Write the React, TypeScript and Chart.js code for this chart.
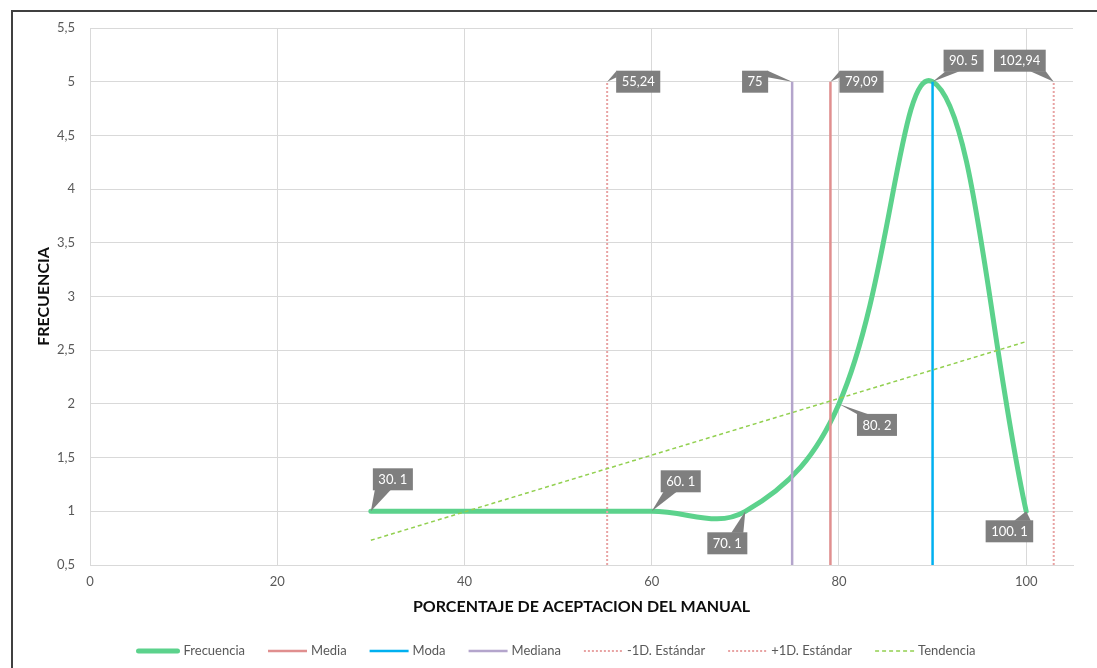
import React, { useEffect, useRef } from 'react';
import { Chart, registerables } from 'chart.js';

Chart.register(...registerables);

// ---------- data ----------
const freqX = [30, 60, 70, 80, 90, 100];
const freqY = [1, 1, 1, 2, 5, 1];
const trendX = [30, 100];
const trendY = [0.73, 2.58];
const statNames = ['Media', 'Moda', 'Mediana', '-1D. Estándar', '+1D. Estándar'];
const statValues = [79.09, 90, 75, 55.24, 102.94];
const statLineFrom = 0.5;
const statLineTo = 5;
const xTicks = [0, 20, 40, 60, 80, 100];
const yTicks = [0.5, 1, 1.5, 2, 2.5, 3, 3.5, 4, 4.5, 5, 5.5];
const xTitle = 'PORCENTAJE DE ACEPTACION DEL MANUAL';
const yTitle = 'FRECUENCIA';

// ---------- styles ----------
const FONT = 'Lato, "Noto Sans", sans-serif';
const statColors = ['#E08F8F', '#00B0F0', '#B4A5CC', '#E8A3A3', '#E8A3A3'];
const statWidths = [2.5, 2.5, 2.5, 2, 2];
const statDash: number[][] = [[], [], [], [2, 2], [2, 2]];
const statOrder = [5, 4, 3, 2, 1];
const freqColor = '#5CD28C';
const trendColor = '#92D050';

type LStyle = { dx: number; dy: number; align: 'left' | 'right'; edge: 'top' | 'bottom' | 'left' | 'right'; base: [number, number] } | null;
const freqLabelStyle: LStyle[] = [
  { dx: 2, dy: -43, align: 'left', edge: 'bottom', base: [0.05, 0.45] },
  { dx: 9, dy: -41, align: 'left', edge: 'bottom', base: [0.07, 0.4] },
  { dx: 2, dy: 21, align: 'right', edge: 'top', base: [0.6, 0.9] },
  { dx: 18, dy: 10, align: 'left', edge: 'top', base: [0.02, 0.3] },
  { dx: 11, dy: -32, align: 'left', edge: 'bottom', base: [0.05, 0.4] },
  { dx: 7, dy: 9, align: 'right', edge: 'top', base: [0.6, 0.95] },
];
const statLabelStyle: LStyle[] = [
  { dx: 9, dy: -11, align: 'left', edge: 'left', base: [0, 0.3] },
  null,
  { dx: -24, dy: -11, align: 'right', edge: 'right', base: [0, 0.3] },
  { dx: 9, dy: -11, align: 'left', edge: 'left', base: [0, 0.3] },
  { dx: -8, dy: -32, align: 'right', edge: 'bottom', base: [0.7, 1.0] },
];

const fmtComma = (v: number) => String(v).replace('.', ',');

const framePlugin = {
  id: 'frame',
  beforeDraw(chart: any) {
    const ctx = chart.ctx;
    ctx.save();
    ctx.fillStyle = '#ffffff';
    ctx.fillRect(0, 0, chart.width, chart.height);
    ctx.strokeStyle = '#404040';
    ctx.lineWidth = 2;
    ctx.beginPath();
    ctx.moveTo(12, chart.height);
    ctx.lineTo(12, 11);
    ctx.lineTo(chart.width, 11);
    ctx.stroke();
    ctx.restore();
  },
};

function drawCallout(ctx: any, text: string, ax: number, ay: number, st: any) {
  ctx.font = `13px ${FONT}`;
  const tw = ctx.measureText(text).width;
  const w = tw + 11;
  const h = 22;
  const bx = st.align === 'left' ? ax + st.dx : ax + st.dx - w;
  const by = ay + st.dy;
  ctx.fillStyle = '#7F7F7F';
  ctx.fillRect(bx, by, w, h);
  let p1: number[], p2: number[];
  if (st.edge === 'bottom' || st.edge === 'top') {
    const ey = st.edge === 'bottom' ? by + h - 0.5 : by + 0.5;
    p1 = [bx + w * st.base[0], ey];
    p2 = [bx + w * st.base[1], ey];
  } else {
    const ex = st.edge === 'left' ? bx + 0.5 : bx + w - 0.5;
    p1 = [ex, by + h * st.base[0]];
    p2 = [ex, by + h * st.base[1]];
  }
  ctx.beginPath();
  ctx.moveTo(p1[0], p1[1]);
  ctx.lineTo(ax, ay);
  ctx.lineTo(p2[0], p2[1]);
  ctx.closePath();
  ctx.fill();
  ctx.fillStyle = '#ffffff';
  ctx.textAlign = 'center';
  ctx.textBaseline = 'middle';
  ctx.fillText(text, bx + w / 2, by + h / 2 + 0.5);
}

const labelPlugin = {
  id: 'callouts',
  afterDatasetsDraw(chart: any) {
    const ctx = chart.ctx;
    const xs = chart.scales.x;
    const ys = chart.scales.y;
    ctx.save();
    freqX.forEach((x, i) => {
      const st = freqLabelStyle[i];
      if (!st) return;
      drawCallout(ctx, `${x}. ${freqY[i]}`, xs.getPixelForValue(x), ys.getPixelForValue(freqY[i]), st);
    });
    statValues.forEach((v, i) => {
      const st = statLabelStyle[i];
      if (!st) return;
      drawCallout(ctx, fmtComma(v), xs.getPixelForValue(v), ys.getPixelForValue(statLineTo), st);
    });
    ctx.restore();
  },
};

const legendPlugin = {
  id: 'customLegend',
  afterDraw(chart: any) {
    const ctx = chart.ctx;
    const items = chart.data.datasets.map((d: any) => ({
      label: d.label,
      color: d.borderColor,
      width: d.label === 'Frecuencia' ? 5 : d.borderWidth,
      dash: d.borderDash || [],
      len: d.label === 'Frecuencia' ? 43 : 39,
    }));
    ctx.save();
    ctx.font = `13px ${FONT}`;
    const gapText = 4;
    const gapItem = 23;
    const widths = items.map((it: any) => it.len + gapText + ctx.measureText(it.label).width);
    const total = widths.reduce((a: number, b: number) => a + b, 0) + gapItem * (items.length - 1);
    let x = 556 - total / 2;
    const y = 651;
    items.forEach((it: any, i: number) => {
      ctx.strokeStyle = it.color;
      ctx.lineWidth = it.width;
      ctx.lineCap = it.label === 'Frecuencia' ? 'round' : 'butt';
      ctx.setLineDash(it.dash);
      ctx.beginPath();
      ctx.moveTo(x + (it.label === 'Frecuencia' ? 2 : 0), y);
      ctx.lineTo(x + it.len - (it.label === 'Frecuencia' ? 2 : 0), y);
      ctx.stroke();
      ctx.setLineDash([]);
      ctx.fillStyle = '#595959';
      ctx.textAlign = 'left';
      ctx.textBaseline = 'middle';
      ctx.fillText(it.label, x + it.len + gapText, y);
      x += widths[i] + gapItem;
    });
    ctx.restore();
  },
};

export default function App() {
  const ref = useRef<HTMLCanvasElement>(null);
  useEffect(() => {
    if (!ref.current) return;
    const datasets: any[] = [
      {
        label: 'Frecuencia',
        data: freqX.map((x, i) => ({ x, y: freqY[i] })),
        borderColor: freqColor,
        backgroundColor: freqColor,
        borderWidth: 5,
        tension: 0.4,
        pointRadius: 0,
        borderCapStyle: 'round',
        order: 10,
      },
      ...statNames.map((name, i) => ({
        label: name,
        data: [
          { x: statValues[i], y: statLineFrom },
          { x: statValues[i], y: statLineTo },
        ],
        borderColor: statColors[i],
        backgroundColor: statColors[i],
        borderWidth: statWidths[i],
        borderDash: statDash[i],
        pointRadius: 0,
        order: statOrder[i],
      })),
      {
        label: 'Tendencia',
        data: trendX.map((x, i) => ({ x, y: trendY[i] })),
        borderColor: trendColor,
        backgroundColor: trendColor,
        borderWidth: 1.5,
        borderDash: [4, 3],
        pointRadius: 0,
        order: 0,
      },
    ];
    const chart = new Chart(ref.current, {
      type: 'line',
      data: { datasets },
      options: {
        responsive: false,
        animation: false,
        layout: { padding: { left: 0, right: 24, top: 28, bottom: 0 } },
        plugins: { legend: { display: false }, tooltip: { enabled: false } },
        scales: {
          x: {
            type: 'linear',
            min: 0,
            max: 105,
            afterBuildTicks: (s: any) => {
              s.ticks = xTicks.map((v) => ({ value: v }));
            },
            afterFit: (s: any) => {
              s.height = 103;
            },
            grid: { color: '#D9D9D9', drawTicks: false, lineWidth: 1 },
            border: { color: '#D9D9D9' },
            ticks: {
              padding: 9,
              color: '#595959',
              font: { family: FONT, size: 13 },
              callback: (v: any) => String(v),
            },
            title: {
              display: true,
              text: xTitle,
              color: '#0D0D0D',
              font: { family: FONT, size: 16, weight: 'bold' },
              padding: { top: 0, bottom: 52 },
            },
          },
          y: {
            type: 'linear',
            min: 0.5,
            max: 5.5,
            afterBuildTicks: (s: any) => {
              s.ticks = yTicks.map((v) => ({ value: v }));
            },
            afterFit: (s: any) => {
              s.width = 90;
            },
            grid: { color: '#D9D9D9', drawTicks: false, lineWidth: 1 },
            border: { color: '#D9D9D9' },
            ticks: {
              padding: 15,
              color: '#595959',
              font: { family: FONT, size: 13 },
              callback: (v: any) => fmtComma(v),
            },
            title: {
              display: true,
              text: yTitle,
              color: '#0D0D0D',
              font: { family: FONT, size: 16, weight: 'bold' },
              padding: { top: 34, bottom: 0 },
            },
          },
        },
      },
      plugins: [framePlugin, labelPlugin, legendPlugin],
    } as any);
    return () => chart.destroy();
  }, []);
  return (
    <div style={{ position: 'fixed', left: 0, top: 0, width: 1097, height: 668 }}>
      <canvas ref={ref} width={1097} height={668} />
    </div>
  );
}
